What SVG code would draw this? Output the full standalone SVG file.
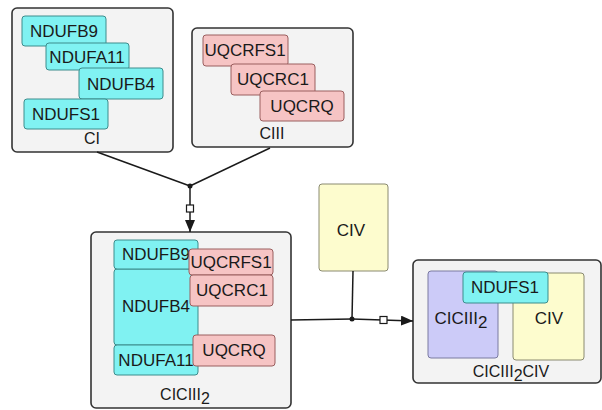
<svg xmlns="http://www.w3.org/2000/svg" width="602" height="410" viewBox="0 0 602 410">
  <defs>
    <style>
      text { font-family: "Liberation Sans", Arial, sans-serif; font-size: 17px; fill: #1a1a1a; text-anchor: middle; }
      .lbl { font-size: 16px; }
      .complex { fill: #f3f3f3; stroke: #333; stroke-width: 1.6; }
      .ci { fill: #80f2f2; stroke: #3c8c8c; stroke-width: 1; }
      .ciii { fill: #f6c4c4; stroke: #9a5e5e; stroke-width: 1; }
      .civ { fill: #fdfcce; stroke: #8a8a70; stroke-width: 1; }
      .sc { fill: #cccbf8; stroke: #7a7aa0; stroke-width: 1; }
      .edge { fill: none; stroke: #1a1a1a; stroke-width: 1.5; }
      .pt { fill: #fff; stroke: #1a1a1a; stroke-width: 1.2; }
    </style>
    <marker id="arrow" viewBox="0 0 12 10" refX="12" refY="5" markerWidth="12" markerHeight="10" markerUnits="userSpaceOnUse" orient="auto">
      <path d="M0,0 L12,5 L0,10 z" fill="#1a1a1a"/>
    </marker>
  </defs>

  <!-- Complex I -->
  <g id="CI">
    <rect class="complex" x="12" y="8" width="161" height="144" rx="5"/>
    <rect class="ci" x="22" y="16" width="84" height="30" rx="3"/>
    <text x="64" y="37">NDUFB9</text>
    <rect class="ci" x="46" y="43" width="83" height="27" rx="3"/>
    <text x="87" y="63">NDUFA11</text>
    <rect class="ci" x="79" y="68" width="84" height="31" rx="3"/>
    <text x="121" y="90">NDUFB4</text>
    <rect class="ci" x="24" y="99" width="84" height="30" rx="3"/>
    <text x="66" y="120">NDUFS1</text>
    <text class="lbl" x="92" y="144">CI</text>
  </g>

  <!-- Complex III -->
  <g id="CIII">
    <rect class="complex" x="192" y="28" width="161" height="119" rx="5"/>
    <rect class="ciii" x="203" y="35" width="85" height="31" rx="3"/>
    <text x="245" y="56">UQCRFS1</text>
    <rect class="ciii" x="231" y="64" width="84" height="31" rx="3"/>
    <text x="273" y="85">UQCRC1</text>
    <rect class="ciii" x="260" y="91" width="84" height="30" rx="3"/>
    <text x="302" y="112">UQCRQ</text>
    <text class="lbl" x="272" y="139">CIII</text>
  </g>

  <!-- Supercomplex I+III2 -->
  <g id="CICIII2">
    <rect class="complex" x="91" y="232" width="200" height="176" rx="5"/>
    <rect class="ci" x="114" y="269" width="84" height="76" rx="3"/>
    <text x="156" y="312">NDUFB4</text>
    <rect class="ci" x="114" y="240" width="84" height="29" rx="3"/>
    <text x="156" y="260">NDUFB9</text>
    <rect class="ci" x="114" y="345" width="84" height="30" rx="3"/>
    <text x="156" y="366">NDUFA11</text>
    <rect class="ciii" x="189" y="249" width="84" height="26" rx="3"/>
    <text x="231" y="268">UQCRFS1</text>
    <rect class="ciii" x="190" y="275" width="83" height="31" rx="3"/>
    <text x="232" y="296">UQCRC1</text>
    <rect class="ciii" x="193" y="335" width="82" height="31" rx="3"/>
    <text x="234" y="356">UQCRQ</text>
    <text class="lbl" x="185" y="400">CICIII<tspan dy="4">2</tspan></text>
  </g>

  <!-- Complex IV -->
  <g id="CIV">
    <rect class="civ" x="319" y="184" width="69" height="87" rx="3"/>
    <text x="351" y="236">CIV</text>
  </g>

  <!-- Respirasome I+III2+IV -->
  <g id="CICIII2CIV">
    <rect class="complex" x="413" y="260" width="188" height="123" rx="5"/>
    <rect class="sc" x="428" y="271" width="70" height="87" rx="3"/>
    <text x="461" y="324">CICIII<tspan dy="4">2</tspan></text>
    <rect class="civ" x="513" y="273" width="71" height="87" rx="3"/>
    <text x="549" y="324">CIV</text>
    <rect class="ci" x="463" y="272" width="85" height="31" rx="3"/>
    <text x="505" y="293">NDUFS1</text>
    <text class="lbl" x="511" y="377">CICIII<tspan dy="4">2</tspan><tspan dy="-4">CIV</tspan></text>
  </g>

  <!-- Association reactions -->
  <g id="connectors">
    <path class="edge" d="M97,152 L190,186"/>
    <path class="edge" d="M270,148 L190,186"/>
    <path class="edge" d="M190,186 L190,232" marker-end="url(#arrow)"/>
    <circle cx="190" cy="186" r="2.5" fill="#1a1a1a"/>
    <rect class="pt" x="186.5" y="205" width="7" height="7"/>

    <path class="edge" d="M291,320 L352,319"/>
    <path class="edge" d="M353,271 L352,319"/>
    <path class="edge" d="M352,319 L413,321" marker-end="url(#arrow)"/>
    <circle cx="352" cy="319" r="2.5" fill="#1a1a1a"/>
    <rect class="pt" x="380" y="316.5" width="7" height="7"/>
  </g>
</svg>
